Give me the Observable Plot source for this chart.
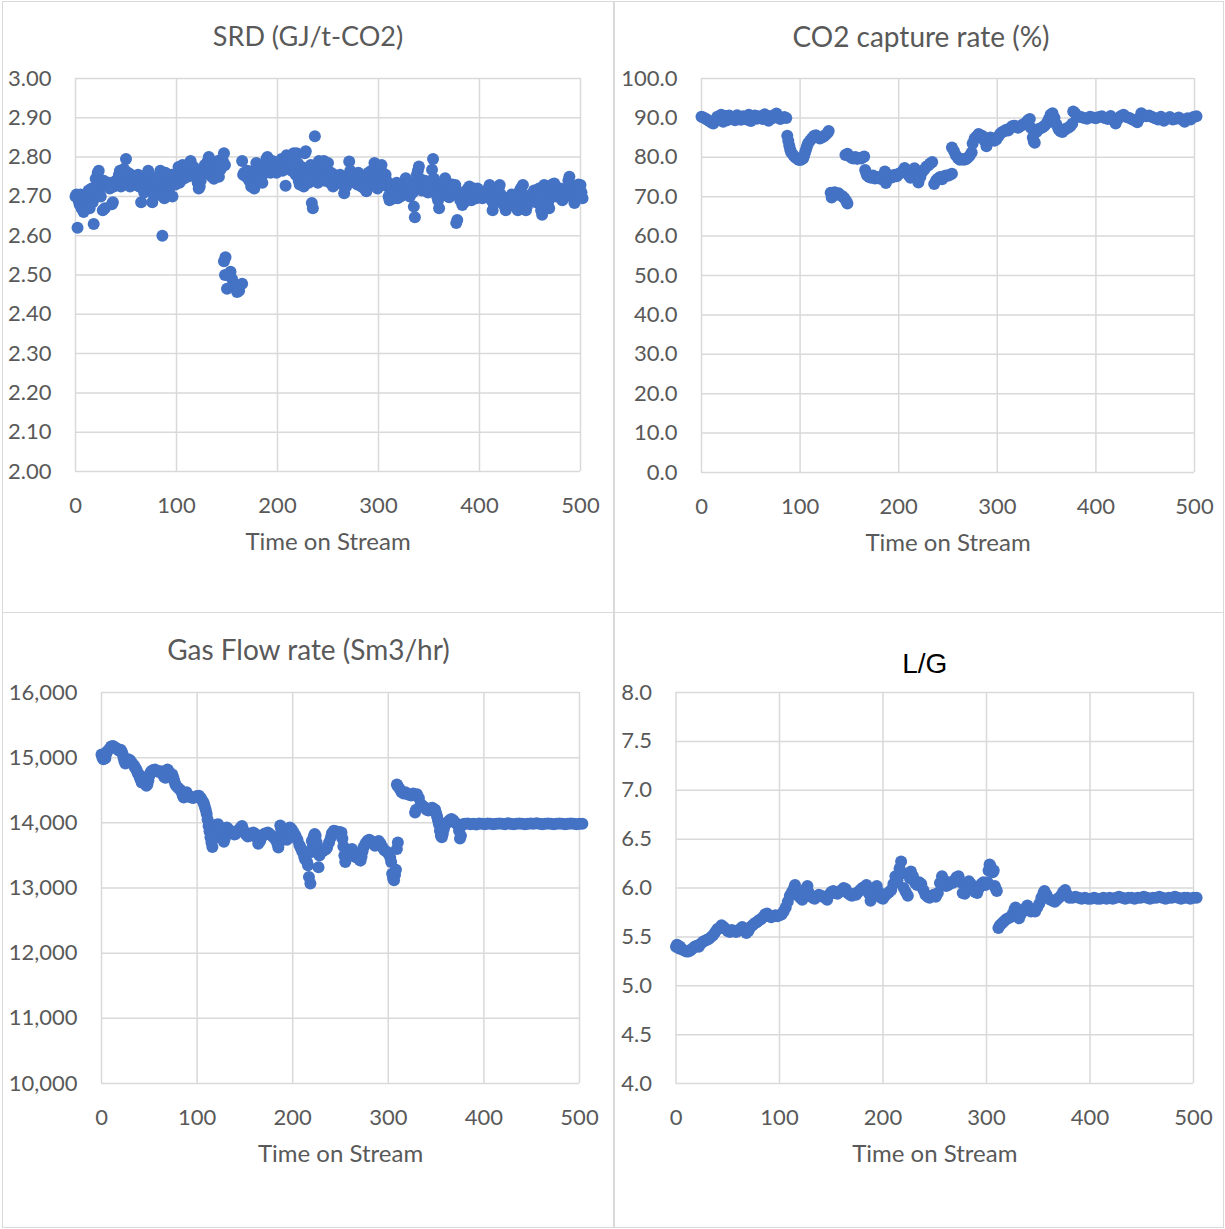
<!DOCTYPE html>
<html>
<head>
<meta charset="utf-8">
<script src="https://cdn.jsdelivr.net/npm/d3@7"></script>
<script src="https://cdn.jsdelivr.net/npm/@observablehq/plot@0.6"></script>
<style>
  html, body { margin: 0; padding: 0; background: #fff; }
  #root { position: relative; width: 1225px; height: 1229px; overflow: hidden; font-family: Lato, sans-serif; }
  .panel { position: absolute; }
  .border { position: absolute; border: 1.5px solid #d9d9d9; box-sizing: border-box; }
</style>
</head>
<body>
<div id="root"></div>
<script>
// ---------- DATA ----------
const xTicks = [0, 100, 200, 300, 400, 500];

const srdTicks = [2.0, 2.1, 2.2, 2.3, 2.4, 2.5, 2.6, 2.7, 2.8, 2.9, 3.0];
const co2Ticks = [0, 10, 20, 30, 40, 50, 60, 70, 80, 90, 100];
const gasTicks = [10000, 11000, 12000, 13000, 14000, 15000, 16000];
const lgTicks = [4.0, 4.5, 5.0, 5.5, 6.0, 6.5, 7.0, 7.5, 8.0];

const titles = ["SRD (GJ/t-CO2)", "CO2 capture rate (%)", "Gas Flow rate (Sm3/hr)", "L/G"];
const xLabel = "Time on Stream";

// SRD (GJ/t-CO2): [time, value]
const srdData = [
[0,2.70],[1,2.705],[2,2.62],[3,2.69],[4,2.68],[5,2.705],[6,2.67],[7,2.695],[8,2.66],[9,2.685],[10,2.70],[11,2.675],[12,2.69],[13,2.715],[14,2.67],[15,2.70],[16,2.72],[17,2.685],[18,2.63],[19,2.705],
[20,2.745],[21,2.72],[22,2.76],[23,2.765],[24,2.735],[25,2.70],[26,2.725],[27,2.665],[28,2.74],[29,2.67],[30,2.73],[32,2.725],[33,2.735],[34,2.72],[35,2.73],[36,2.68],[37,2.685],[38,2.725],
[40,2.74],[41,2.73],[42,2.745],[43,2.755],[44,2.765],[45,2.725],[46,2.75],[47,2.735],[48,2.77],[49,2.74],[50,2.795],[51,2.73],[52,2.76],[53,2.745],[54,2.725],[55,2.755],[56,2.735],[57,2.745],[58,2.73],
[60,2.75],[61,2.74],[62,2.755],[63,2.725],[64,2.74],[65,2.685],[66,2.73],[67,2.745],[68,2.71],[69,2.735],[70,2.74],[71,2.755],[72,2.765],[73,2.745],[74,2.73],[75,2.72],[76,2.685],[77,2.735],[78,2.70],[79,2.745],
[80,2.725],[81,2.75],[82,2.73],[83,2.715],[84,2.765],[85,2.735],[86,2.60],[87,2.705],[88,2.695],[89,2.76],[90,2.72],[91,2.74],[92,2.71],[93,2.745],[94,2.725],[95,2.755],[96,2.70],[97,2.74],[98,2.75],[99,2.73],
[100,2.745],[101,2.76],[102,2.775],[103,2.735],[104,2.75],[105,2.765],[106,2.78],[107,2.745],[108,2.755],[109,2.77],[110,2.76],[111,2.75],[112,2.775],[113,2.785],[114,2.79],[115,2.765],[116,2.755],[117,2.775],[118,2.77],[119,2.75],
[120,2.745],[121,2.735],[122,2.72],[123,2.725],[124,2.74],[125,2.76],[126,2.755],[127,2.77],[128,2.78],[129,2.765],[130,2.775],[131,2.79],[132,2.80],[133,2.785],[134,2.76],[135,2.75],[136,2.77],[137,2.745],[138,2.755],[139,2.78],
[140,2.765],[141,2.79],[142,2.75],[143,2.785],[144,2.77],[145,2.795],[146,2.79],[147,2.81],[148,2.78],
[147,2.535],[148.5,2.545],[148,2.50],[150,2.465],[152,2.50],[153.5,2.508],[155,2.49],[157,2.47],[159,2.475],[160,2.457],[162,2.46],[165,2.478],
[165,2.79],[166,2.755],[167,2.76],[169,2.75],[170,2.765],[172,2.74],[174,2.725],[175,2.73],[176,2.755],[177,2.72],[178,2.77],[179,2.785],
[180,2.745],[181,2.76],[183,2.775],[184,2.75],[185,2.735],[186,2.765],[187,2.78],[188,2.76],[189,2.795],[190,2.80],[191,2.775],[192,2.765],[193,2.76],[194,2.78],[195,2.79],[196,2.77],[197,2.765],[198,2.775],[199,2.76],
[200,2.775],[201,2.785],[202,2.77],[203,2.78],[204,2.795],[205,2.765],[206,2.785],[207,2.775],[208,2.727],[209,2.805],[210,2.79],[211,2.775],[212,2.80],[213,2.78],[214,2.765],[215,2.79],[216,2.81],[217,2.77],[218,2.755],[219,2.81],
[220,2.785],[221,2.74],[222,2.73],[223,2.76],[224,2.775],[225,2.745],[226,2.725],[227,2.81],[228,2.815],[229,2.75],[230,2.77],[231,2.735],[232,2.76],[233,2.78],[234,2.683],[235,2.67],[236,2.745],[237,2.853],[238,2.775],[239,2.76],
[240,2.735],[241,2.79],[242,2.745],[243,2.765],[244,2.78],[245,2.755],[246,2.79],[247,2.74],[248,2.775],[249,2.76],[250,2.785],[251,2.75],[252,2.735],[253,2.76],[254,2.745],[255,2.725],[256,2.755],[257,2.74],[258,2.75],
[260,2.735],[261,2.745],[262,2.755],[264,2.73],[265,2.745],[266,2.708],[267,2.735],[268,2.725],[269,2.75],[270,2.74],[271,2.789],[272,2.765],[273,2.75],[274,2.76],[275,2.745],[276,2.755],[277,2.735],[278,2.745],[279,2.73],
[280,2.76],[281,2.75],[282,2.74],[283,2.725],[284,2.745],[285,2.735],[286,2.72],[287,2.73],[288,2.713],[289,2.745],[290,2.76],[291,2.735],[292,2.75],[293,2.765],[294,2.74],[295,2.73],[296,2.785],[297,2.75],[298,2.733],[299,2.72],
[300,2.755],[301,2.77],[302,2.74],[303,2.78],[304,2.76],[305,2.745],[306,2.73],[307,2.755],[308,2.74],[309,2.725],[310,2.70],[311,2.69],[312,2.71],[313,2.73],[314,2.72],[315,2.705],[316,2.695],[317,2.715],[318,2.735],[319,2.695],
[320,2.72],[321,2.71],[322,2.70],[323,2.725],[324,2.715],[325,2.735],[326,2.72],[327,2.746],[328,2.73],[329,2.715],[330,2.725],[331,2.70],[332,2.735],[333,2.72],[334,2.71],[335,2.674],[336,2.647],[337,2.73],[338,2.755],[339,2.765],
[340,2.776],[341,2.745],[342,2.73],[343,2.715],[344,2.735],[345,2.72],[346,2.74],[347,2.733],[348,2.725],[349,2.71],[350,2.73],[351,2.72],[352,2.74],[353,2.768],[354,2.795],[355,2.745],[356,2.73],[357,2.72],[358,2.70],[359,2.69],
[360,2.67],[361,2.705],[362,2.72],[363,2.73],[364,2.71],[365,2.725],[366,2.746],[367,2.735],[368,2.715],[369,2.70],[370,2.698],[371,2.72],[372,2.71],[373,2.73],[374,2.725],[375,2.715],[376,2.729],[377,2.632],[378,2.64],[379,2.71],
[380,2.70],[381,2.69],[382,2.705],[383,2.678],[384,2.695],[385,2.685],[386,2.705],[387,2.715],[388,2.70],[389,2.72],[390,2.725],[391,2.705],[392,2.69],[393,2.715],[394,2.72],[395,2.70],[396,2.71],[397,2.695],[398,2.72],[399,2.705],
[400,2.71],[402,2.70],[403,2.695],[404,2.705],[406,2.70],[407,2.715],[408,2.70],[409,2.72],[410,2.729],[411,2.705],[412,2.69],[413,2.665],[414,2.68],[415,2.70],[416,2.71],[417,2.695],[418,2.71],[419,2.72],
[420,2.729],[421,2.705],[422,2.70],[423,2.69],[424,2.68],[425,2.675],[426,2.665],[427,2.685],[428,2.695],[429,2.68],[430,2.69],[431,2.70],[432,2.705],[433,2.70],[434,2.685],[435,2.675],[436,2.69],[437,2.67],[438,2.665],[439,2.70],
[440,2.715],[441,2.72],[442,2.705],[443,2.729],[444,2.69],[445,2.68],[446,2.665],[447,2.675],[448,2.695],[449,2.685],[450,2.70],[451,2.705],[452,2.69],[453,2.705],[454,2.715],[455,2.70],[456,2.685],[457,2.695],[458,2.71],[459,2.72],
[460,2.70],[461,2.665],[462,2.653],[463,2.68],[464,2.729],[465,2.715],[466,2.70],[467,2.72],[468,2.685],[469,2.67],[470,2.705],[471,2.72],[472,2.73],[473,2.715],[474,2.733],[475,2.725],[476,2.70],[477,2.71],[478,2.715],[479,2.705],
[480,2.72],[481,2.70],[482,2.69],[483,2.695],[484,2.71],[485,2.705],[486,2.715],[487,2.72],[488,2.74],[489,2.75],[490,2.73],[491,2.705],[492,2.72],[493,2.695],[494,2.683],[495,2.70],[496,2.71],[497,2.72],[498,2.73],[499,2.725],
[500,2.729],[501,2.71],[502,2.695]
];

// CO2 capture rate (%): [time, value]
const co2Data = [
[0,90.3],[2,90.1],[4,89.8],[6,89.5],[8,89.2],[10,88.8],[12,88.6],[14,89.3],[16,90.3],[18,89.6],[20,90.8],[22,89.0],[24,90.5],[26,89.4],[28,90.6],[30,89.8],[32,90.2],[34,89.4],[36,90.7],[38,89.9],
[40,89.5],[42,90.4],[44,90.1],[46,89.6],[48,90.8],[50,89.2],[52,90.3],[54,90.6],[56,89.8],[58,90.4],[60,90.1],[62,89.7],[64,90.9],[66,90.2],[68,89.3],[70,90.5],[72,89.9],[74,90.2],[76,91.1],[78,90.3],
[80,89.7],[82,90.0],[84,90.2],[86,90.0],
[87,85.5],[88,84.2],[89,83.0],[90,82.0],[91,81.2],[93,80.6],[95,80.0],[97,79.6],[99,79.3],[101,79.4],[103,79.7],[104,80.3],[105,81.2],[106,82.0],[107,82.8],[108,83.5],[110,84.2],[112,84.8],[114,85.4],[116,85.6],
[118,85.2],[120,84.8],[122,85.0],[124,85.3],[126,85.7],[128,86.2],[129,86.7],
[131,71.0],[132,69.8],[133,70.5],[135,71.1],[137,70.6],[139,70.9],[141,70.3],[143,70.1],[145,69.6],[147,68.8],[148,68.3],
[146,80.6],[148,80.9],[150,80.3],[152,79.9],[154,79.7],[156,80.1],[158,79.6],[160,79.8],[162,79.7],[164,80.0],[165,80.2],
[166,76.8],[167,76.0],[168,75.4],[170,75.0],[172,74.8],[174,75.4],[176,74.6],[178,75.0],[180,74.9],[182,74.5],[184,75.3],[186,76.4],[187,73.5],[188,74.8],[190,75.5],[192,74.8],[194,75.0],[196,75.6],[198,75.2],
[200,75.8],[202,76.0],[204,76.5],[206,77.3],[208,76.8],[210,75.5],[212,74.8],[214,75.6],[216,77.2],[218,76.5],[219,74.5],[220,73.6],[222,75.0],[224,76.3],[226,76.9],[228,77.6],[230,77.9],[232,78.4],[234,78.8],
[236,73.2],[238,74.2],[240,74.6],[242,75.0],[244,74.4],[246,75.2],[248,75.4],[250,75.3],[252,75.6],[254,75.8],
[254,82.5],[256,81.6],[258,80.5],[260,79.8],[262,79.4],[264,79.6],[266,79.4],[268,79.5],[270,79.9],[272,80.4],[274,81.2],[275,83.5],[277,84.8],[279,85.3],[281,85.9],[283,85.6],[285,85.4],[287,84.2],[289,82.8],
[291,84.5],[293,85.0],[295,84.6],[297,84.2],[299,84.5],[301,85.3],[303,86.0],[305,86.4],[307,86.6],[309,87.0],[311,86.8],[313,87.4],[315,87.9],[317,88.0],[319,87.8],[321,87.5],[323,87.8],[325,88.2],[327,88.4],
[329,88.8],[331,89.4],[333,89.7],[334,87.5],[336,85.0],[337,84.0],[338,83.7],[340,86.5],[342,87.2],[344,87.4],[346,87.6],[348,88.0],[350,88.6],[352,89.6],[354,90.8],[356,91.2],[358,90.0],[360,88.3],
[362,87.2],[364,86.6],[366,86.4],[368,86.9],[370,87.3],[372,87.5],[374,87.9],[376,88.5],[377,91.6],[379,91.2],[381,90.5],[383,90.3],
[385,90.2],[388,90.0],[391,89.8],[394,90.3],[397,90.1],[400,89.9],[403,90.2],[406,90.4],[409,90.0],[412,89.7],[415,90.5],[418,89.4],[420,88.6],[422,89.6],[425,90.4],[428,90.8],[431,90.2],[434,90.0],
[437,89.6],[440,89.3],[442,88.9],[444,89.8],[446,91.2],[448,90.8],[451,90.4],[454,90.6],[457,90.2],[460,89.9],[463,89.6],[466,90.3],[469,89.3],[472,89.8],[475,90.2],[478,89.6],[481,89.8],[484,90.1],
[487,89.6],[490,89.0],[493,89.9],[496,89.6],[499,90.2],[502,90.4]
];

// Gas Flow rate (Sm3/hr): [time, value]
const gasData = [
[0,15050],[1,15000],[2,14975],[3,15020],[4,14990],[5,15060],[6,15100],[8,15130],[10,15170],[12,15180],[14,15160],[16,15140],[18,15110],[20,15120],[21,15100],[22,15060],[23,15000],[24,14950],[25,14910],
[26,14930],[28,14975],[30,14960],[32,14920],[34,14880],[35,14850],[36,14830],[37,14800],[38,14760],[39,14740],[40,14700],[41,14660],[42,14620],[43,14650],[44,14700],[45,14660],[46,14600],[47,14570],
[48,14590],[49,14650],[50,14720],[51,14760],[52,14790],[54,14810],[56,14820],[58,14800],[60,14780],[62,14790],[64,14760],[65,14720],[66,14700],[67,14690],[68,14780],[69,14820],[70,14800],[72,14760],
[74,14740],[75,14700],[76,14650],[77,14600],[78,14570],[80,14540],[82,14510],[84,14470],[85,14420],[86,14390],[87,14400],[88,14450],[89,14470],[90,14430],[92,14400],[94,14390],[96,14380],[98,14400],
[100,14410],[102,14415],[104,14380],[106,14330],[107,14300],[108,14250],[109,14200],[110,14140],[111,14050],[112,13950],[113,13870],[114,13780],[115,13700],[116,13630],[117,13750],[118,13880],
[119,13930],[120,13970],[122,13980],[124,13900],[126,13800],[128,13710],[129,13760],[130,13860],[131,13930],[133,13900],[135,13870],[137,13840],[139,13820],[140,13830],[142,13860],[144,13900],
[146,13930],[147,13950],[149,13880],[151,13820],[153,13790],[155,13800],[157,13840],[159,13850],[161,13830],[163,13760],[164,13680],[166,13720],[168,13790],[170,13830],[172,13840],[174,13850],
[176,13830],[178,13800],[180,13780],[182,13740],[184,13680],[185,13620],[186,13700],[187,13960],[188,13900],[190,13820],[192,13780],[194,13740],[196,13830],[197,13930],[199,13900],[201,13850],
[203,13800],[205,13740],[207,13660],[208,13630],[209,13600],[210,13560],[212,13480],[213,13440],[214,13520],[215,13400],[216,13350],[217,13170],[218.5,13070],[219,13550],[220,13720],[221,13640],
[222,13790],[223,13830],[224,13800],[225,13700],[226,13620],[227,13320],[228,13500],[229,13540],[231,13560],[233,13580],[235,13600],[236,13620],[238,13700],[240,13780],[241,13840],[243,13880],
[245,13870],[247,13840],[249,13860],[251,13850],[252,13760],[253,13640],[254,13500],[255,13400],[256,13450],[258,13550],[260,13580],[262,13600],[264,13540],[266,13470],[268,13480],[270,13430],
[271,13420],[272,13480],[273,13560],[274,13620],[276,13680],[278,13720],[280,13740],[282,13720],[284,13680],[286,13650],[288,13670],[290,13720],[292,13680],[294,13620],[296,13580],[298,13560],
[300,13530],[302,13470],[303,13400],[304,13220],[305,13150],[306,13120],[307,13200],[308,13280],[309,13600],[310,13700],
[309,14590],[310,14560],[312,14520],[314,14470],[316,14450],[318,14470],[320,14440],[322,14430],[324,14420],[326,14450],[328,14160],[329,14200],[330,14440],[332,14380],[334,14290],[336,14260],
[338,14240],[340,14200],[342,14190],[344,14220],[346,14230],[348,14210],[349,14200],[350,14150],[351,14100],[352,14040],[353,13980],[354,13880],[355,13800],[356,13780],[357,13830],[358,13900],
[360,13980],[362,14010],[364,14040],[366,14060],[368,14040],[370,14000],[372,13980],[374,13880],[375,13760],[376,13800],[377,13960],[378,13980],
[380,13985],[383,13990],[386,13980],[389,13985],[392,13975],[395,13990],[398,13985],[401,13980],[404,13990],[407,13985],[410,13980],[413,13985],[416,13990],[419,13985],[422,13980],[425,13995],
[428,13985],[431,13980],[434,13985],[437,13990],[440,13985],[443,13980],[446,13985],[449,13990],[452,13985],[455,13995],[458,13985],[461,13980],[464,13985],[467,13990],[470,13985],[473,13980],
[476,13985],[479,13990],[482,13985],[485,13980],[488,13985],[491,13990],[494,13985],[497,13980],[500,13985],[503,13985]
];

// L/G: [time, value]
const lgData = [
[0,5.40],[1,5.42],[2,5.41],[3,5.38],[4,5.40],[6,5.37],[8,5.36],[10,5.35],[12,5.35],[14,5.36],[16,5.38],[18,5.40],[20,5.41],[22,5.40],[24,5.43],[26,5.45],[28,5.46],[30,5.47],[32,5.48],[34,5.50],
[36,5.52],[38,5.55],[40,5.58],[42,5.59],[44,5.62],[46,5.60],[48,5.58],[50,5.56],[52,5.55],[54,5.57],[56,5.56],[58,5.55],[60,5.56],[62,5.58],[64,5.60],[66,5.58],[68,5.54],[70,5.56],[72,5.60],[74,5.62],
[76,5.64],[78,5.65],[80,5.67],[82,5.68],[84,5.70],[86,5.73],[88,5.74],[90,5.71],[92,5.70],[94,5.71],[96,5.72],[98,5.71],[100,5.72],[102,5.73],[104,5.76],[106,5.80],[108,5.86],[110,5.92],[112,5.96],
[114,6.00],[115,6.03],[116,5.98],[118,5.92],[120,5.90],[122,5.88],[124,5.94],[126,6.00],[127,6.02],[128,5.96],[130,5.92],[132,5.90],[134,5.89],[136,5.91],[138,5.93],[140,5.92],[142,5.91],[144,5.90],
[146,5.88],[148,5.93],[150,5.96],[152,5.97],[154,5.95],[156,5.94],[158,5.96],[160,5.98],[162,6.00],[164,5.99],[166,5.95],[168,5.93],[170,5.92],[172,5.94],[174,5.93],[176,5.96],[178,5.98],[180,6.00],
[182,6.01],[184,6.03],[186,5.95],[188,5.87],[190,5.94],[192,6.00],[194,6.02],[196,5.96],[198,5.90],[200,5.89],[202,5.92],[204,5.94],[206,5.96],[208,5.98],[210,6.04],[212,6.12],[214,6.08],[216,6.20],
[217.5,6.27],[219,6.15],[220,6.00],[222,5.96],[224,5.92],[226,6.10],[227,6.17],[229,6.12],[231,6.05],[233,6.03],[235,6.06],[237,6.04],[239,5.98],[241,5.93],[243,5.91],[245,5.90],[247,5.92],[249,5.93],
[251,5.91],[253,5.95],[255,6.05],[257,6.12],[259,6.08],[261,6.02],[263,6.03],[265,6.06],[267,6.05],[269,6.08],[271,6.11],[273,6.12],[275,6.06],[277,5.95],[279,5.94],[281,6.00],[283,6.07],[285,6.04],
[287,6.00],[289,5.96],[291,5.95],[293,6.00],[295,6.04],[297,6.06],[299,6.03],[301,6.06],[302,6.18],[303,6.24],[304,6.22],[306,6.16],[307,6.18],[308,6.02],[309,5.99],[310,5.97],
[311.5,5.59],[313,5.62],[315,5.64],[317,5.66],[319,5.68],[321,5.69],[323,5.70],[325,5.73],[327,5.78],[328,5.80],[330,5.74],[331.5,5.69],[333,5.73],[335,5.76],[337,5.79],[339.5,5.82],[341,5.78],
[343,5.76],[345,5.77],[347,5.76],[349,5.80],[351,5.84],[353,5.90],[355,5.95],[356,5.97],[358,5.93],[360,5.89],[362,5.88],[364,5.87],[366,5.86],[368,5.88],[370,5.90],[372,5.92],[374,5.96],[376,5.98],
[378,5.93],[380,5.90],[383,5.90],[386,5.91],[389,5.90],[392,5.89],[395,5.90],[398,5.89],[401,5.89],[404,5.90],[407,5.89],[410,5.89],[413,5.90],[416,5.89],[419,5.90],[422,5.89],[425,5.90],[428,5.91],
[431,5.90],[434,5.89],[437,5.90],[440,5.90],[443,5.89],[446,5.90],[449,5.90],[452,5.91],[455,5.90],[458,5.89],[461,5.90],[464,5.90],[467,5.91],[470,5.90],[473,5.89],[476,5.90],[479,5.90],[482,5.91],
[485,5.90],[488,5.89],[491,5.90],[494,5.90],[497,5.89],[500,5.90],[503,5.90]
];

// ---------- LAYOUT ----------
const GRID = "#d9d9d9";
const DOT = "#4472c4";
const TEXT = "#595959";
const FONT = "Lato, sans-serif";

const panels = [
  { data: srdData, ticks: srdTicks, fmt: d => d.toFixed(2), title: titles[0],
    left: 0, top: 0, width: 614, height: 614,
    m: { l: 75, r: 34, t: 78, b: 143 }, tdx: -20, tdy: -41, tfont: FONT, tcolor: TEXT, tsize: 27 },
  { data: co2Data, ticks: co2Ticks, fmt: d => d.toFixed(1), title: titles[1],
    left: 614, top: 0, width: 611, height: 614,
    m: { l: 87, r: 31, t: 78, b: 142 }, tdx: -27, tdy: -40, tfont: FONT, tcolor: TEXT, tsize: 28 },
  { data: gasData, ticks: gasTicks, fmt: d3.format(","), title: titles[2],
    left: 0, top: 614, width: 614, height: 614,
    m: { l: 101, r: 35, t: 78, b: 145 }, tdx: -32, tdy: -41, tfont: FONT, tcolor: TEXT, tsize: 28 },
  { data: lgData, ticks: lgTicks, fmt: d => d.toFixed(1), title: titles[3],
    left: 614, top: 614, width: 611, height: 614,
    m: { l: 61.5, r: 32, t: 78, b: 145 }, tdx: -10, tdy: -28, tfont: "'Liberation Sans', Arial, sans-serif", tcolor: "#000", tsize: 28 }
];

const root = document.getElementById("root");

// panel borders
[[2, 1, 612, 612], [614, 1, 610, 612], [2, 612, 612, 616], [614, 612, 610, 616]].forEach(([l, t, w, h]) => {
  const b = document.createElement("div");
  b.className = "border";
  Object.assign(b.style, { left: l + "px", top: t + "px", width: w + "px", height: h + "px" });
  root.appendChild(b);
});

panels.forEach(p => {
  const yDom = [p.ticks[0], p.ticks[p.ticks.length - 1]];
  const chart = Plot.plot({
    width: p.width,
    height: p.height,
    marginLeft: p.m.l, marginRight: p.m.r, marginTop: p.m.t, marginBottom: p.m.b,
    style: { fontFamily: FONT, color: TEXT, background: "transparent", overflow: "visible" },
    x: { domain: [0, 500], axis: null },
    y: { domain: yDom, axis: null },
    marks: [
      Plot.gridX(xTicks, { stroke: GRID, strokeOpacity: 1, strokeWidth: 1.5 }),
      Plot.gridY(p.ticks, { stroke: GRID, strokeOpacity: 1, strokeWidth: 1.5 }),
      Plot.dot(p.data, { x: d => d[0], y: d => d[1], r: 6, fill: DOT, stroke: "none" }),
      Plot.axisX({ ticks: xTicks, tickSize: 0, tickPadding: 26, fontSize: 22, label: null, tickFormat: d => String(d) }),
      Plot.axisY({ ticks: p.ticks, tickSize: 0, tickPadding: 24, fontSize: 22, label: null, tickFormat: p.fmt }),
      Plot.text([xLabel], { frameAnchor: "bottom", dy: 71, fontSize: 24, fill: TEXT, lineAnchor: "middle" }),
      Plot.text([p.title], { frameAnchor: "top", dx: p.tdx, dy: p.tdy, fontSize: p.tsize, fill: p.tcolor, fontFamily: p.tfont, lineAnchor: "middle" })
    ]
  });
  const wrap = document.createElement("div");
  wrap.className = "panel";
  Object.assign(wrap.style, { left: p.left + "px", top: p.top + "px" });
  wrap.appendChild(chart);
  root.appendChild(wrap);
});
</script>
</body>
</html>
